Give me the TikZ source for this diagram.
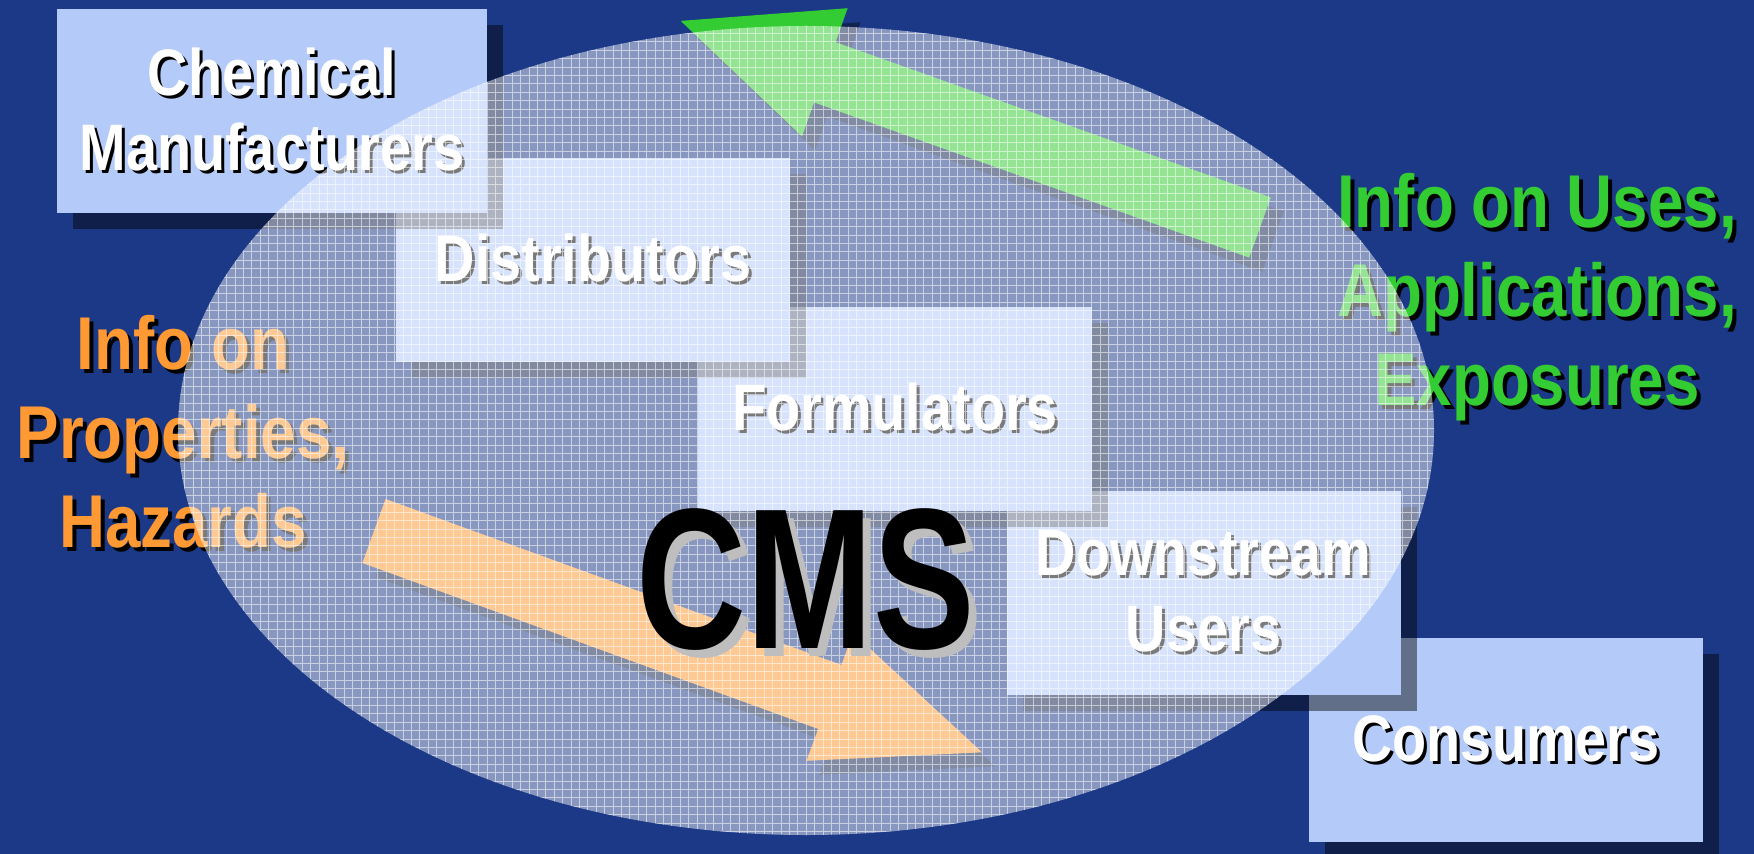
\documentclass[tikz,border=0pt]{standalone}
\usepackage{fontspec}
\setmainfont{Liberation Sans}
\newfontfamily\narrowfont{Liberation Sans}[FakeStretch=0.85]
\newfontfamily\cmsfont{Liberation Sans}[FakeStretch=0.76]
\usetikzlibrary{shadows}

\definecolor{bgblue}{RGB}{28,57,135}
\definecolor{boxblue}{RGB}{180,203,250}
\definecolor{infogreen}{RGB}{51,204,51}
\definecolor{infoorange}{RGB}{255,153,51}
\definecolor{cmsgray}{RGB}{190,190,190}

% text with a small offset copy behind it
\newcommand{\txtshadow}[3][0.3mm]{\leavevmode\rlap{\kern#1\raisebox{-#1}{\color{#2}#3}}#3}

\begin{document}
\begin{tikzpicture}[x=0.1mm, y=-0.1mm,
    stagebox/.style={fill=boxblue, minimum width=39.4mm, minimum height=20.4mm, inner sep=0pt,
      align=center, text=white, font=\narrowfont\bfseries\fontsize{18.7}{21.6}\selectfont,
      drop shadow={shadow xshift=1.6mm, shadow yshift=-1.6mm, fill=black, opacity=0.45}},
    infotext/.style={align=center, font=\narrowfont\bfseries\fontsize{21.3}{25.3}\selectfont},
    arrowshadow/.style={fill=black, opacity=0.4}]
          \useasboundingbox (0,854) rectangle (1754,0);
          \fill [bgblue] (0,854) rectangle (1754,0); % background

          % supply chain boxes, last one first
          \node [stagebox] (cons) at (1506,740) {\txtshadow{black}{Consumers}};
          \node [stagebox] (down) at (1203.5,592.5) {\txtshadow{black}{Downstream}\\\txtshadow{black}{Users}};
          \node [stagebox] (form) at (895,408.5) {\txtshadow{black}{Formulators}};
          \node [stagebox] (dist) at (593,259.5) {\txtshadow{black}{Distributors}};
          \node [stagebox, minimum width=43mm] (chem) at (272,111) {\txtshadow{black}{Chemical}\\\txtshadow{black}{Manufacturers}};

          % down the chain
          \fill [arrowshadow, shift={(13,14)}] (385.6,499.0) -- (841.4,664.9) -- (853.1,633.0) -- (982.0,752.3) -- (806.5,760.8) -- (818.2,728.9) -- (362.4,563.0) -- cycle;
          \fill [infoorange] (385.6,499.0) -- (841.4,664.9) -- (853.1,633.0) -- (982.0,752.3) -- (806.5,760.8) -- (818.2,728.9) -- (362.4,563.0) -- cycle;

          % up the chain
          \fill [arrowshadow, shift={(13,14)}] (1270.8,197.4) -- (835.6,42.2) -- (847.6,8.2) -- (680.7,20.9) -- (802.0,136.4) -- (814.0,102.4) -- (1249.2,257.6) -- cycle;
          \fill [infogreen] (1270.8,197.4) -- (835.6,42.2) -- (847.6,8.2) -- (680.7,20.9) -- (802.0,136.4) -- (814.0,102.4) -- (1249.2,257.6) -- cycle;

          \node [infotext, text=infoorange] (props) at (183,434) {\txtshadow[0.4mm]{black}{Info on}\\\txtshadow[0.4mm]{black}{Properties,}\\\txtshadow[0.4mm]{black}{Hazards}};
          \node [infotext, text=infogreen] (uses) at (1537,299.5) {\txtshadow[0.4mm]{black}{Info on Uses,}\\\txtshadow[0.4mm]{black}{Applications,}\\\txtshadow[0.4mm]{black}{Exposures}};

          % the CMS disc over everything
          \fill [white, opacity=0.48] (806,430.5) ellipse [x radius=628, y radius=404.5];
          \begin{scope}
            \clip (806,430.5) ellipse [x radius=628, y radius=404.5];
            \draw [white, opacity=0.55, line width=0.1mm] (170,840) grid [step=0.84mm] (1440,20);
          \end{scope}

          \node [anchor=base, inner sep=0pt, text height=0.72em, text depth=0pt, font=\cmsfont\bfseries\fontsize{57}{57}\selectfont] (cms) at (805.5,648) {\txtshadow[0.8mm]{cmsgray}{CMS}};
\end{tikzpicture}
\end{document}
